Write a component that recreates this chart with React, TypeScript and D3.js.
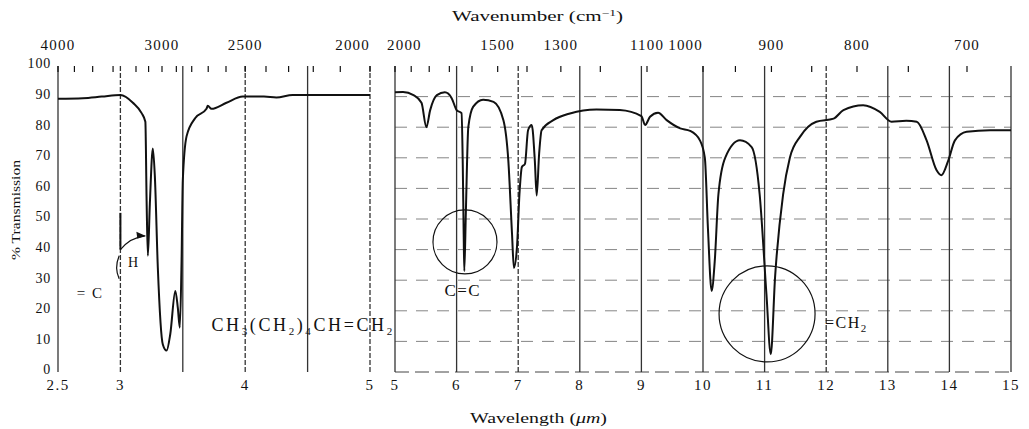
import React from "react";
import * as d3 from "d3";

// ---- data (wavelength in µm, % transmission) ----
const leftWavelength = [2.5, 2.7, 2.85, 3.0, 3.1, 3.17, 3.2, 3.21, 3.22, 3.236, 3.26, 3.276, 3.3, 3.34, 3.37, 3.4, 3.44, 3.46, 3.476, 3.49, 3.5, 3.53, 3.6, 3.69, 3.7, 3.73, 3.85, 3.98, 4.15, 4.25, 4.38, 4.6, 5.0];
const leftTransmission = [89.3, 89.5, 90, 90.5, 88, 84.6, 81.8, 56, 38, 55, 73, 64, 34, 9, 7, 12.5, 26.5, 21, 14.5, 36, 62.6, 77, 83, 86, 87, 86, 88, 90, 90, 89.7, 90.5, 90.5, 90.5];

const rightWavelength = [5.0, 5.13, 5.3, 5.43, 5.51, 5.57, 5.68, 5.81, 5.92, 6.0, 6.08, 6.1, 6.115, 6.125, 6.15, 6.19, 6.27, 6.43, 6.6, 6.76, 6.84, 6.9, 6.93, 6.98, 7.02, 7.06, 7.11, 7.16, 7.22, 7.27, 7.3, 7.34, 7.38, 7.57, 7.84, 8.27, 8.65, 9.0, 9.06, 9.14, 9.27, 9.41, 9.63, 9.79, 9.95, 10.03, 10.08, 10.14, 10.19, 10.25, 10.36, 10.6, 10.79, 10.92, 11.03, 11.1, 11.17, 11.3, 11.41, 11.58, 11.84, 12.12, 12.28, 12.6, 12.87, 13.06, 13.3, 13.47, 13.63, 13.79, 13.87, 13.98, 14.09, 14.28, 14.66, 15.0];
const rightTransmission = [91.4, 91.5, 90.5, 88, 80, 85.5, 90.5, 91.4, 89.5, 85.6, 84.6, 68, 45, 33, 52, 80, 86.7, 89, 88.3, 82.3, 69, 45, 34, 40.8, 58, 67, 68, 79, 80.7, 69, 57.7, 71.4, 79, 82.3, 84.5, 85.8, 85.6, 83.6, 80.7, 83.4, 84.7, 82.3, 79.6, 78.8, 75.7, 70, 47, 26.5, 36, 58, 70, 75.7, 73.5, 58, 25.4, 5.8, 31, 58, 70, 77, 81.8, 82.8, 85.6, 87.2, 85, 81.8, 82.1, 81.8, 75.7, 66, 64.3, 69, 75.7, 78.5, 79, 79];

// axis ticks / labels
const yTicks = [0, 10, 20, 30, 40, 50, 60, 70, 80, 90, 100];
const leftBottomTicks = [2.5, 3, 4, 5];
const leftBottomLabels = ["2.5", "3", "4", "5"];
const rightBottomTicks = [5, 6, 7, 8, 9, 10, 11, 12, 13, 14, 15];
const leftGridSolid = [2.5, 3.5, 4.5];
const leftGridDashed = [3, 4, 5];
const rightGridSolid = [5, 6, 8, 9, 10, 11, 13, 14, 15];
const rightGridDashed = [7, 12];
const rightHGrid = [10, 20, 30, 40, 50, 60, 70, 80, 90];
const leftTopWavenumbers = [4000, 3800, 3600, 3400, 3200, 3100, 3000, 2900, 2800, 2700, 2600, 2500, 2400, 2300, 2200, 2100, 2000];
const rightTopWavenumbers = [2000, 1900, 1800, 1700, 1600, 1500, 1400, 1300, 1200, 1100, 1000, 950, 900, 850, 800, 750, 700];
const leftTopLabels = [4000, 3000, 2500, 2000];
const leftTopAnchors = ["middle", "middle", "middle", "end"];
const rightTopLabels = [2000, 1500, 1300, 1100, 1000, 900, 800, 700];
const rightTopAnchors = ["start", "middle", "middle", "middle", "end", "middle", "middle", "middle"];

const FONT = "'Liberation Serif', 'DejaVu Serif', serif";

export default function App() {
  const W = 1029, H = 429;
  const xL = d3.scaleLinear().domain([2.5, 5]).range([58, 370]);
  const xR = d3.scaleLinear().domain([5, 15]).range([395, 1011]);
  const y = d3.scaleLinear().domain([0, 100]).range([372, 66]);

  const leftPts: [number, number][] = leftWavelength.map((w, i) => [w, leftTransmission[i]]);
  const rightPts: [number, number][] = rightWavelength.map((w, i) => [w, rightTransmission[i]]);
  const lineL = d3.line<[number, number]>().x(d => xL(d[0])).y(d => y(d[1])).curve(d3.curveMonotoneX);
  const lineR = d3.line<[number, number]>().x(d => xR(d[0])).y(d => y(d[1])).curve(d3.curveMonotoneX);

  const ink = "#111";
  const grid = "#333";

  return (
    <svg width={W} height={H} style={{ display: "block", position: "absolute", left: 0, top: 0, background: "#fff" }} fontFamily={FONT}>
      <rect x={0} y={0} width={W} height={H} fill="#fff" />
      {/* titles */}
      <text x={452} y={21} fontSize={14} fill={ink} textLength={171} lengthAdjust="spacingAndGlyphs">
        Wavenumber (cm<tspan dy={-5} fontSize={9}>−1</tspan><tspan dy={5}>)</tspan>
      </text>
      <text x={470} y={423} fontSize={14} fill={ink} textLength={137} lengthAdjust="spacingAndGlyphs">
        Wavelength (<tspan fontStyle="italic">μm</tspan>)
      </text>
      <text transform={`translate(20,${210}) rotate(-90)`} x={-50} fontSize={13} fill={ink} textLength={100} lengthAdjust="spacingAndGlyphs">
        % Transmission
      </text>

      {/* right panel horizontal grid */}
      {rightHGrid.map(t => (
        <line key={"hg" + t} x1={xR(5)} x2={xR(15)} y1={y(t)} y2={y(t)} stroke="#777" strokeWidth={0.9} strokeDasharray="12,9" />
      ))}
      <line x1={xR(5)} x2={xR(15)} y1={y(0)} y2={y(0)} stroke="#444" strokeWidth={1} strokeDasharray="14,6" />

      {/* vertical grid */}
      {leftGridSolid.map(v => (
        <line key={"ls" + v} x1={xL(v)} x2={xL(v)} y1={y(100)} y2={y(0)} stroke={grid} strokeWidth={1.3} />
      ))}
      {leftGridDashed.map(v => (
        <line key={"ld" + v} x1={xL(v)} x2={xL(v)} y1={y(100)} y2={y(0)} stroke={grid} strokeWidth={1.3} strokeDasharray="5,2" />
      ))}
      {rightGridSolid.map(v => (
        <line key={"rs" + v} x1={xR(v)} x2={xR(v)} y1={y(100)} y2={y(0)} stroke={grid} strokeWidth={1.3} />
      ))}
      {rightGridDashed.map(v => (
        <line key={"rd" + v} x1={xR(v)} x2={xR(v)} y1={y(100)} y2={y(0)} stroke={grid} strokeWidth={1.3} strokeDasharray="5,2" />
      ))}

      {/* top ticks */}
      {leftTopWavenumbers.map(n => (
        <line key={"lt" + n} x1={xL(10000 / n)} x2={xL(10000 / n)} y1={y(100)} y2={y(100) + 6} stroke={ink} strokeWidth={1.2} />
      ))}
      {rightTopWavenumbers.map(n => (
        <line key={"rt" + n} x1={xR(10000 / n)} x2={xR(10000 / n)} y1={y(100)} y2={y(100) + 6} stroke={ink} strokeWidth={1.2} />
      ))}
      {leftTopLabels.map((n, i) => (
        <text key={"ltl" + n} x={xL(10000 / n)} y={50} textAnchor={leftTopAnchors[i] as any} fontSize={15} letterSpacing={1.2} fill={ink}>{n}</text>
      ))}
      {rightTopLabels.map((n, i) => (
        <text key={"rtl" + n} x={xR(10000 / n) + (rightTopAnchors[i] === "start" ? -8 : 0)} y={50} textAnchor={rightTopAnchors[i] as any} fontSize={15} letterSpacing={1.2} fill={ink}>{n}</text>
      ))}

      {/* y tick labels */}
      {yTicks.map(t => (
        <text key={"yt" + t} x={51} y={y(t) - 2.5} dy="0.35em" textAnchor="end" fontSize={14} letterSpacing={0.8} fill={ink}>{t}</text>
      ))}

      {/* bottom tick labels */}
      {leftBottomTicks.map((v, i) => (
        <text key={"lb" + v} x={xL(v)} y={390} textAnchor="middle" fontSize={15} letterSpacing={1.5} fill={ink}>{leftBottomLabels[i]}</text>
      ))}
      {rightBottomTicks.map(v => (
        <text key={"rb" + v} x={xR(v)} y={390} textAnchor="middle" fontSize={15} letterSpacing={1.5} fill={ink}>{v}</text>
      ))}

      {/* spectrum */}
      <path d={lineL(leftPts) || ""} fill="none" stroke={ink} strokeWidth={2} strokeLinejoin="round" />
      <path d={lineR(rightPts) || ""} fill="none" stroke={ink} strokeWidth={2} strokeLinejoin="round" />

      {/* annotations */}
      <line x1={xL(3.0)} x2={xL(3.0)} y1={y(52)} y2={y(40)} stroke={ink} strokeWidth={2} />
      <path d={`M${xL(3.0)},${y(40)} Q${xL(3.08)},${y(44)} ${xL(3.2)},${y(44.5)}`} fill="none" stroke={ink} strokeWidth={1.2} />
      <path d={`M${xL(3.2)},${y(44.5)} l-9,-4 l1,7 z`} fill={ink} />
      <path d={`M${xL(2.99)},${y(38)} Q${xL(2.95)},${y(34)} ${xL(2.99)},${y(30.5)}`} fill="none" stroke={ink} strokeWidth={1.2} />
      <text x={xL(3.06)} y={y(36)} dy="0.35em" fontSize={14} fill={ink}>H</text>
      <text x={xL(2.65)} y={y(25.8)} dy="0.35em" fontSize={15} letterSpacing={1.5} fill={ink}>= C</text>
      <text x={xL(3.73)} y={y(13.5)} fontSize={18} letterSpacing={2.6} fill={ink}>
        CH<tspan dy={4} fontSize={11}>3</tspan><tspan dy={-4}>(CH</tspan><tspan dy={4} fontSize={11}>2</tspan><tspan dy={-4}>)</tspan><tspan dy={4} fontSize={11}>4</tspan><tspan dy={-4}>CH=CH</tspan><tspan dy={4} fontSize={11}>2</tspan>
      </text>

      <circle cx={xR(6.136)} cy={y(42.5)} r={32} fill="none" stroke={ink} strokeWidth={1.2} />
      <text x={xR(6.1)} y={y(26.8)} dy="0.35em" textAnchor="middle" fontSize={17} letterSpacing={1.5} fill={ink}>C=C</text>
      <circle cx={xR(11.04)} cy={y(19)} r={48} fill="none" stroke={ink} strokeWidth={1.2} />
      <text x={xR(11.98)} y={y(16.3)} dy="0.35em" fontSize={16} letterSpacing={1.5} fill={ink}>
        =CH<tspan dy={4} fontSize={11}>2</tspan>
      </text>
    </svg>
  );
}
